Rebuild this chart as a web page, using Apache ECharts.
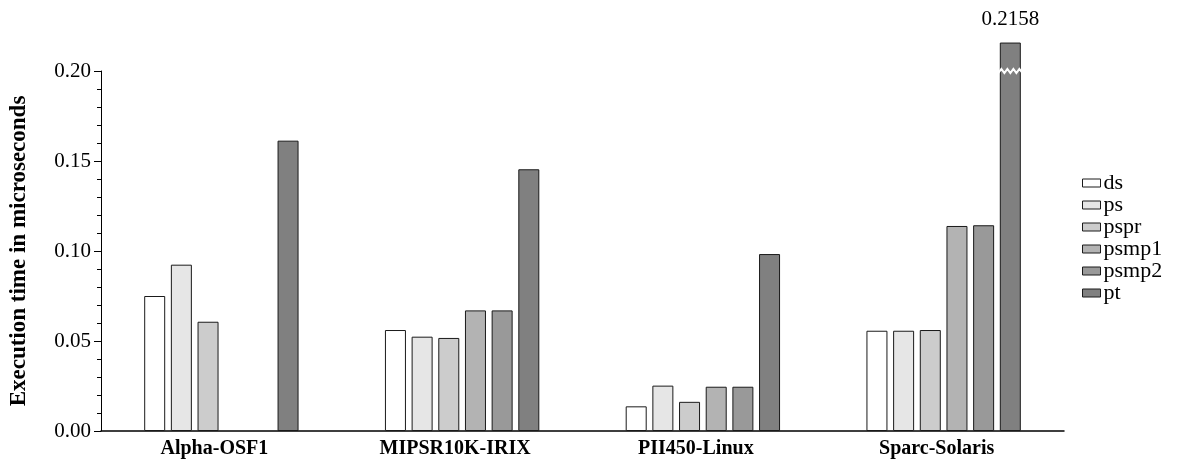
<!DOCTYPE html>
<html>
<head>
<meta charset="utf-8">
<script src="https://cdn.jsdelivr.net/npm/echarts@6/dist/echarts.min.js"></script>
<style>
    html, body { margin: 0; padding: 0; background: #fff; }
    #chartBar { width: 1179px; height: 464px; }
</style>
</head>
<body>
<div id="chartBar"></div>
<script>
    var platforms = ['Alpha-OSF1', 'MIPSR10K-IRIX', 'PII450-Linux', 'Sparc-Solaris'];
    var seriesNames = ['ds', 'ps', 'pspr', 'psmp1', 'psmp2', 'pt'];
    var seriesColors = ['#ffffff', '#e6e6e6', '#cccccc', '#b3b3b3', '#999999', '#808080'];

    var dataDs = [0.0750, 0.0561, 0.0137, 0.0557];
    var dataPs = [0.0924, 0.0524, 0.0252, 0.0557];
    var dataPspr = [0.0607, 0.0517, 0.0162, 0.0561];
    var dataPsmp1 = [0, 0.0670, 0.0246, 0.1139];
    var dataPsmp2 = [0, 0.0670, 0.0246, 0.1143];
    var dataPt = [0.1613, 0.1454, 0.0983, 0.2158];

    var yTicks = [0.00, 0.05, 0.10, 0.15, 0.20];

    var allData = [dataDs, dataPs, dataPspr, dataPsmp1, dataPsmp2, dataPt];
    var serif = '"Liberation Serif", "DejaVu Serif", serif';

    var chartBar = echarts.init(document.getElementById('chartBar'));

    var series = seriesNames.map(function (name, i) {
        return {
            name: name,
            type: 'bar',
            barWidth: 21,
            barGap: '27%',
            clip: false,
            itemStyle: {
                color: seriesColors[i],
                borderColor: '#1a1a1a',
                borderWidth: 1
            },
            data: allData[i].map(function (v, j) {
                var item = { value: v };
                if (v === 0) item.itemStyle = { opacity: 0 };
                if (name === 'pt' && j === 3) {
                    item.label = {
                        show: true,
                        position: 'top',
                        distance: 13,
                        formatter: '0.2158',
                        fontFamily: serif,
                        fontSize: 21,
                        color: '#000'
                    };
                }
                return item;
            })
        };
    });

    chartBar.setOption({
        animation: false,
        grid: {
            left: 97,
            right: 115,
            top: 71,
            bottom: 33
        },
        legend: {
            orient: 'vertical',
            left: 1077,
            top: 167,
            itemWidth: 18,
            itemHeight: 8,
            itemGap: 0,
            icon: 'rect',
            textStyle: { fontFamily: serif, fontSize: 22, lineHeight: 22, color: '#000', padding: [0, 0, 0, -2] },
            data: seriesNames,
            itemStyle: { borderColor: '#1a1a1a', borderWidth: 1 }
        },
        xAxis: {
            type: 'category',
            data: platforms,
            axisLine: { lineStyle: { color: '#000', width: 1.5 } },
            axisTick: { show: false },
            axisLabel: {
                fontFamily: serif,
                fontSize: 20,
                fontWeight: 'bold',
                color: '#000',
                margin: 8,
                padding: [0, 14, 0, 0]
            }
        },
        yAxis: {
            type: 'value',
            min: 0,
            max: 0.20,
            interval: 0.05,
            name: 'Execution time in microseconds',
            nameLocation: 'middle',
            nameGap: 70,
            nameTextStyle: {
                fontFamily: serif,
                fontSize: 23,
                fontWeight: 'bold',
                color: '#000'
            },
            axisLine: { show: true, lineStyle: { color: '#000', width: 1 } },
            axisTick: { show: true, length: 7, lineStyle: { color: '#000' } },
            minorTick: { show: true, splitNumber: 5, length: 4, lineStyle: { color: '#000' } },
            splitLine: { show: false },
            axisLabel: {
                fontFamily: serif,
                fontSize: 21,
                color: '#000',
                margin: 10,
                formatter: function (v) {
                    return v.toFixed(2);
                }
            }
        },
        series: series
    });

    // break mark on the Sparc pt bar at the top of the axis
    var p = chartBar.convertToPixel({ xAxisIndex: 0, yAxisIndex: 0 }, [3, yTicks[yTicks.length - 1]]);
    var off = 2.5 * 26.7;
    var cx = p[0] + off;
    var pts = [];
    for (var k = 0; k <= 8; k++) {
        pts.push([cx - 12 + k * 3, p[1] + (k % 2 === 0 ? 2 : -2)]);
    }
    chartBar.setOption({
        graphic: [{
            type: 'polyline',
            shape: { points: pts },
            style: { stroke: '#fff', lineWidth: 2, fill: null },
            z: 100
        }]
    });
</script>
</body>
</html>
